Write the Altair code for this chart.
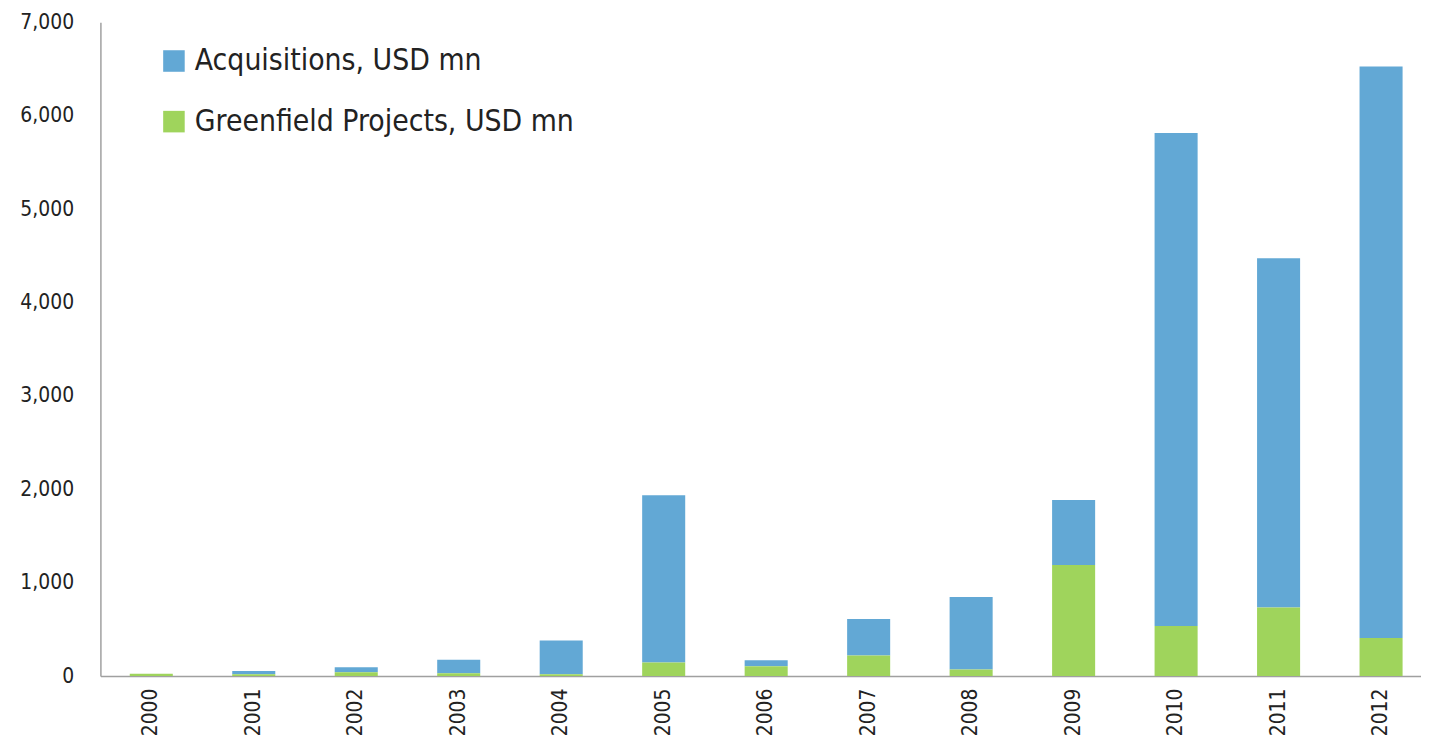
import altair as alt
import pandas as pd

years = ["2000", "2001", "2002", "2003", "2004", "2005", "2006",
         "2007", "2008", "2009", "2010", "2011", "2012"]
acquisitions = [0, 35, 55, 145, 360, 1790, 65, 390, 778, 695, 5280, 3740, 6120]
greenfield = [25, 20, 40, 30, 20, 145, 105, 220, 70, 1190, 535, 733, 407]

series_names = ["Acquisitions, USD mn", "Greenfield Projects, USD mn"]
colors = ["#62A8D5", "#9FD45C"]

rows = []
for y, a, g in zip(years, acquisitions, greenfield):
    rows.append({"year": y, "series": series_names[0], "value": a, "ord": 1})
    rows.append({"year": y, "series": series_names[1], "value": g, "ord": 0})
df = pd.DataFrame(rows)

FONT = "DejaVu Sans Condensed, Liberation Sans Narrow, sans-serif"

chart = alt.Chart(df).mark_bar(xOffset=5.5).encode(
    x=alt.X("year:N", sort=years, title=None,
            scale=alt.Scale(paddingInner=0.58, paddingOuter=0.233, round=False),
            axis=alt.Axis(labelAngle=270, labelFontSize=21, labelFont=FONT,
                          labelColor="#222222", ticks=False, labelPadding=12,
                          labelOffset=5.5,
                          domainColor="#A0A0A0", domainWidth=1.5,
                          labelBaseline="middle", labelAlign="right")),
    y=alt.Y("value:Q", stack="zero", title=None,
            scale=alt.Scale(domain=[0, 7000], nice=False),
            axis=alt.Axis(values=[0, 1000, 2000, 3000, 4000, 5000, 6000, 7000],
                          format=",.0f", grid=False, ticks=False, labelPadding=27,
                          labelFontSize=21, labelFont=FONT, labelColor="#222222",
                          domainColor="#A0A0A0", domainWidth=1.5)),
    color=alt.Color("series:N", title=None,
                    scale=alt.Scale(domain=series_names, range=colors),
                    legend=alt.Legend(orient="none", legendX=59, legendY=24,
                                      symbolType="square", symbolSize=470,
                                      symbolStrokeWidth=0, labelLimit=0,
                                      labelFontSize=30, labelFont=FONT,
                                      labelColor="#222222", rowPadding=31,
                                      labelOffset=6)),
    order=alt.Order("ord:Q", sort="ascending"),
).properties(
    width=1329, height=658,
    autosize=alt.AutoSizeParams(type="none"),
    padding={"left": 93, "top": 12, "right": 0, "bottom": 66},
    background="white",
).configure_view(strokeWidth=0)

chart.save("out.html", embed_options={"renderer": "svg", "actions": False})
